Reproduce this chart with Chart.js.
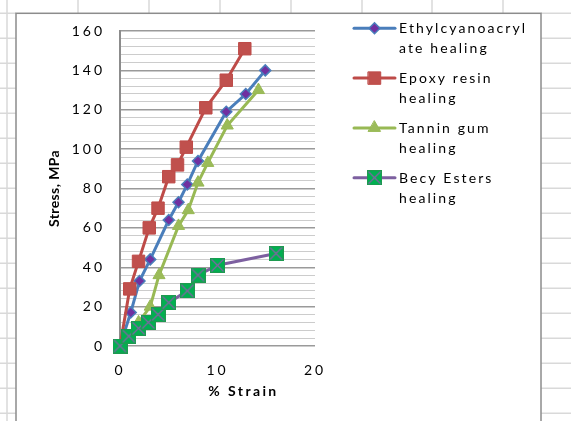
<!DOCTYPE html>
<html>
<head>
<meta charset="utf-8">
<script src="https://cdn.jsdelivr.net/npm/chart.js@4.4.1/dist/chart.umd.min.js"></script>
<style>
  html, body { margin: 0; padding: 0; background: #fff; overflow: hidden; }
  canvas { display: block; }
</style>
</head>
<body>
<canvas id="chart" width="571" height="421"></canvas>
<script>
// Stress–strain curves for the four healing agents
const seriesNames = [
  ['Ethylcyanoacryl', 'ate healing'],
  ['Epoxy resin', 'healing'],
  ['Tannin gum', 'healing'],
  ['Becy Esters', 'healing']
];

const ethylStrain = [0, 1.1, 2, 3.1, 5, 6, 6.9, 8, 10.9, 12.9, 14.9];
const ethylStress = [0, 17, 33, 44, 64, 73, 82, 94, 119, 128, 140];

const epoxyStrain = [0, 1, 1.9, 3, 3.9, 5, 5.9, 6.8, 8.8, 10.9, 12.8];
const epoxyStress = [0, 29, 43, 60, 70, 86, 92, 101, 121, 135, 151];

const tanninStrain = [0, 1.9, 3.1, 4, 6, 7, 8, 9, 11, 14.2];
const tanninStress = [0, 12, 20, 36, 61, 69, 83, 93, 112, 130];

const becyStrain = [0, 0.9, 1.9, 2.9, 3.9, 5, 6.9, 8, 10, 16];
const becyStress = [0, 5, 9, 12, 16, 22, 28, 36, 41, 47];

const yMajorTicks = [0, 20, 40, 60, 80, 100, 120, 140, 160];
const xTicks = [0, 10, 20];

const FONT = 'Lato, "Open Sans", sans-serif';
const TICK_SPACING = '3px';

function toPoints(xs, ys) {
  return xs.map((x, i) => ({ x: x, y: ys[i] }));
}

// green square with a purple cross, used for the Becy Esters series
function crossMarker() {
  const c = document.createElement('canvas');
  c.width = 15; c.height = 15;
  const g = c.getContext('2d');
  g.fillStyle = '#00B050';
  g.fillRect(0, 0, 15, 15);
  g.strokeStyle = '#1E9A50';
  g.lineWidth = 1;
  g.strokeRect(0.5, 0.5, 14, 14);
  g.strokeStyle = '#8064A2';
  g.lineWidth = 1.3;
  g.beginPath();
  g.moveTo(1.5, 1.5); g.lineTo(13.5, 13.5);
  g.moveTo(13.5, 1.5); g.lineTo(1.5, 13.5);
  g.stroke();
  return c;
}

// worksheet cells and the white chart frame behind the plot
const sheetBackground = {
  id: 'sheetBackground',
  beforeDraw(chart) {
    const ctx = chart.ctx;
    ctx.save();
    ctx.fillStyle = '#ffffff';
    ctx.fillRect(0, 0, 571, 421);
    ctx.strokeStyle = '#d9d9d9';
    ctx.lineWidth = 1.5;
    ctx.beginPath();
    [78, 149, 220, 291, 362, 432, 503].forEach(x => { ctx.moveTo(x, 0); ctx.lineTo(x, 13); });
    ctx.moveTo(7, 0); ctx.lineTo(7, 421);
    for (let y = 13.3; y < 421; y += 25) {
      ctx.moveTo(0, y); ctx.lineTo(16, y);
      ctx.moveTo(541, y); ctx.lineTo(571, y);
    }
    ctx.stroke();
    ctx.fillStyle = '#ffffff';
    ctx.fillRect(16, 13.3, 525, 420);
    ctx.strokeStyle = '#8c8c8c';
    ctx.lineWidth = 1.5;
    ctx.strokeRect(16, 13.3, 525, 420);
    ctx.restore();
    ctx.letterSpacing = TICK_SPACING;
  }
};

function drawMarker(ctx, ds, x, y) {
  const st = ds.pointStyle;
  const r = ds.pointRadius;
  if (st instanceof HTMLCanvasElement) {
    ctx.drawImage(st, x - st.width / 2, y - st.height / 2);
    return;
  }
  ctx.beginPath();
  if (st === 'rect') {
    const s = Math.SQRT1_2 * r;
    ctx.rect(x - s, y - s, 2 * s, 2 * s);
  } else if (st === 'rectRot') {
    ctx.moveTo(x - r, y); ctx.lineTo(x, y - r); ctx.lineTo(x + r, y); ctx.lineTo(x, y + r);
    ctx.closePath();
  } else if (st === 'triangle') {
    for (let i = 0; i < 3; i++) {
      const a = i * 2 * Math.PI / 3;
      const px = x + Math.sin(a) * r, py = y - Math.cos(a) * r;
      if (i === 0) ctx.moveTo(px, py); else ctx.lineTo(px, py);
    }
    ctx.closePath();
  }
  ctx.fillStyle = ds.pointBackgroundColor;
  ctx.fill();
  ctx.lineWidth = ds.pointBorderWidth;
  ctx.strokeStyle = ds.pointBorderColor;
  ctx.stroke();
}

// axis titles and the two-line legend at the right
const annotations = {
  id: 'annotations',
  afterDraw(chart) {
    const ctx = chart.ctx;
    ctx.save();
    ctx.fillStyle = '#000';
    ctx.font = 'bold 14px ' + FONT;
    ctx.textAlign = 'center';
    ctx.textBaseline = 'middle';
    ctx.letterSpacing = '2.4px';
    ctx.fillText('% Strain', 243.5, 391);
    ctx.save();
    ctx.translate(54, 188.5);
    ctx.rotate(-Math.PI / 2);
    ctx.letterSpacing = '0.4px';
    ctx.fillText('Stress, MPa', 0, 0);
    ctx.restore();

    chart.data.datasets.forEach((ds, i) => {
      const my = 28.3 + i * 49.8;
      ctx.strokeStyle = ds.borderColor;
      ctx.lineWidth = 3;
      ctx.lineCap = 'round';
      ctx.beginPath();
      ctx.moveTo(354, my); ctx.lineTo(395, my);
      ctx.stroke();
      drawMarker(ctx, ds, 374.5, my);
      ctx.fillStyle = '#000';
      ctx.font = '14px ' + FONT;
      ctx.textAlign = 'left';
      ctx.textBaseline = 'alphabetic';
      ctx.letterSpacing = '2.1px';
      seriesNames[i].forEach((line, k) => ctx.fillText(line, 399, my + 5 + k * 20));
    });
    ctx.restore();
  }
};

function build() {
  const datasets = [
    {
      label: seriesNames[0].join(''),
      data: toPoints(ethylStrain, ethylStress),
      borderColor: '#4A7EBB', borderWidth: 3,
      pointStyle: 'rectRot', pointRadius: 5.5,
      pointBackgroundColor: '#7030A0', pointBorderColor: '#4A7EBB', pointBorderWidth: 1.5,
      clip: false, order: 3
    },
    {
      label: seriesNames[1].join(' '),
      data: toPoints(epoxyStrain, epoxyStress),
      borderColor: '#BE4B48', borderWidth: 3,
      pointStyle: 'rect', pointRadius: 8.8,
      pointBackgroundColor: '#C0504D', pointBorderColor: '#BE4B48', pointBorderWidth: 1,
      clip: false, order: 2
    },
    {
      label: seriesNames[2].join(' '),
      data: toPoints(tanninStrain, tanninStress),
      borderColor: '#98B954', borderWidth: 3,
      pointStyle: 'triangle', pointRadius: 7,
      pointBackgroundColor: '#9BBB59', pointBorderColor: '#98B954', pointBorderWidth: 1,
      clip: false, order: 1
    },
    {
      label: seriesNames[3].join(' '),
      data: toPoints(becyStrain, becyStress),
      borderColor: '#7D60A0', borderWidth: 3,
      pointStyle: crossMarker(), pointRadius: 7.5,
      pointBackgroundColor: '#00B050', pointBorderColor: '#8064A2', pointBorderWidth: 1,
      clip: false, order: 0
    }
  ];

  new Chart(document.getElementById('chart'), {
    type: 'line',
    data: { datasets: datasets },
    options: {
      responsive: false,
      devicePixelRatio: 1,
      animation: false,
      events: [],
      layout: { padding: { left: 16, top: 31, right: 256, bottom: 0 } },
      elements: { line: { tension: 0 } },
      plugins: { legend: { display: false }, tooltip: { enabled: false } },
      scales: {
        x: {
          type: 'linear', min: 0, max: 20,
          afterFit: s => { s.height = 75; },
          afterBuildTicks: s => { s.ticks = xTicks.map(v => ({ value: v })); },
          ticks: { font: { family: FONT, size: 14 }, color: '#000', padding: 16, maxRotation: 0 },
          grid: { display: false, drawTicks: false },
          border: { display: false }
        },
        y: {
          min: 0, max: 160,
          afterFit: s => { s.width = 104; },
          ticks: {
            stepSize: 4, autoSkip: false,
            font: { family: FONT, size: 14 }, color: '#000', padding: 15,
            callback: v => (yMajorTicks.includes(v) ? String(v) : '')
          },
          grid: {
            drawTicks: false,
            color: c => (yMajorTicks.includes(c.tick.value) ? '#9a9a9a' : '#cccccc'),
            lineWidth: c => (yMajorTicks.includes(c.tick.value) ? 1.5 : 1)
          },
          border: { display: true, color: '#8c8c8c', width: 2 }
        }
      }
    },
    plugins: [sheetBackground, annotations]
  });
}

if (document.fonts && document.fonts.load) {
  document.fonts.load('14px Lato').then(build, build);
} else {
  build();
}
</script>
</body>
</html>
